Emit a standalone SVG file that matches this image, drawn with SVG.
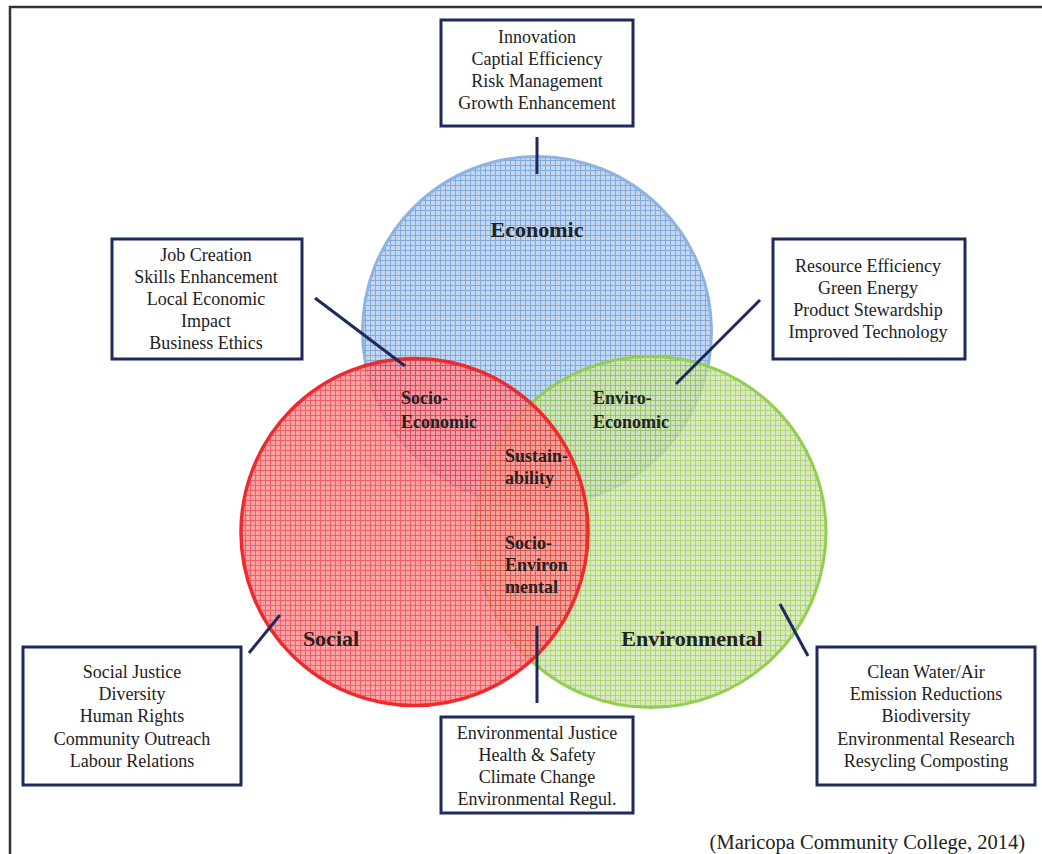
<svg xmlns="http://www.w3.org/2000/svg" width="1042" height="854" viewBox="0 0 1042 854">
<style>
.box{fill:#fff;stroke:#1F2A5C;stroke-width:3}
.bt{font-family:"Liberation Serif",serif;font-size:18px;fill:#222;text-anchor:middle}
.lbl{font-family:"Liberation Serif",serif;font-size:18px;font-weight:bold;fill:#222}
.big{font-family:"Liberation Serif",serif;font-size:22px;font-weight:bold;fill:#222;text-anchor:middle}
.con{stroke:#1F2A5C;stroke-width:3;fill:none}
</style>
<defs>
<pattern id="pE" width="5" height="5" patternUnits="userSpaceOnUse">
<rect width="5" height="5" fill="#C3D7F0"/>
<path d="M0 0.5H5M0.5 0V5" stroke="#82A9DC" stroke-width="1"/>
</pattern>
<pattern id="pS" width="5" height="5" patternUnits="userSpaceOnUse">
<rect width="5" height="5" fill="#FF8D90"/>
<path d="M0 0.5H5M0.5 0V5" stroke="#EC3840" stroke-width="1"/>
</pattern>
<pattern id="pV" width="5" height="5" patternUnits="userSpaceOnUse">
<rect width="5" height="5" fill="#D1E5B0"/>
<path d="M0 0.5H5M0.5 0V5" stroke="#9CCA58" stroke-width="1"/>
</pattern>
</defs>
<rect width="1042" height="854" fill="#fff"/>
<path d="M10 854V7H1042" fill="none" stroke="#333" stroke-width="2.5"/>
<g id="economic">
<circle cx="537" cy="331" r="174.5" fill="url(#pE)" stroke="#8DB3E2" stroke-width="3"/>
</g>
<g id="environmental">
<circle cx="650.5" cy="532" r="175.5" fill="url(#pV)" fill-opacity="0.8" stroke="#92CF50" stroke-width="3"/>
</g>
<g id="social">
<circle cx="414.5" cy="532" r="173.5" fill="url(#pS)" fill-opacity="0.8" stroke="#EE2A2E" stroke-width="3.5"/>
</g>
<g id="region-labels">
<text class="big" x="537" y="237">Economic</text>
<text class="big" x="331" y="646">Social</text>
<text class="big" x="692" y="646">Environmental</text>
<text class="lbl" x="401" y="404">Socio-</text>
<text class="lbl" x="401" y="428">Economic</text>
<text class="lbl" x="593" y="404">Enviro-</text>
<text class="lbl" x="593" y="428">Economic</text>
<text class="lbl" x="505" y="462">Sustain-</text>
<text class="lbl" x="505" y="484">ability</text>
<text class="lbl" x="505" y="549">Socio-</text>
<text class="lbl" x="505" y="571">Environ</text>
<text class="lbl" x="505" y="593">mental</text>
</g>
<g id="connectors">
<line class="con" x1="537" y1="137" x2="537" y2="174"/>
<line class="con" x1="315" y1="298" x2="405" y2="366"/>
<line class="con" x1="760" y1="300" x2="676" y2="384"/>
<line class="con" x1="249" y1="653" x2="280" y2="615"/>
<line class="con" x1="537" y1="626" x2="537" y2="703"/>
<line class="con" x1="780" y1="604" x2="808" y2="656"/>
</g>
<g id="box-economic">
<rect class="box" x="441" y="20" width="192" height="106"/>
<text class="bt" x="537" y="43">Innovation</text>
<text class="bt" x="537" y="65">Captial Efficiency</text>
<text class="bt" x="537" y="87">Risk Management</text>
<text class="bt" x="537" y="109">Growth Enhancement</text>
</g>
<g id="box-socio-economic">
<rect class="box" x="112" y="239" width="190" height="120"/>
<text class="bt" x="206" y="261">Job Creation</text>
<text class="bt" x="206" y="283">Skills Enhancement</text>
<text class="bt" x="206" y="305">Local Economic</text>
<text class="bt" x="206" y="327">Impact</text>
<text class="bt" x="206" y="349">Business Ethics</text>
</g>
<g id="box-enviro-economic">
<rect class="box" x="773" y="239" width="192" height="120"/>
<text class="bt" x="868" y="272">Resource Efficiency</text>
<text class="bt" x="868" y="294">Green Energy</text>
<text class="bt" x="868" y="316">Product Stewardship</text>
<text class="bt" x="868" y="338">Improved Technology</text>
</g>
<g id="box-social">
<rect class="box" x="23" y="647" width="218" height="138"/>
<text class="bt" x="132" y="678">Social Justice</text>
<text class="bt" x="132" y="700">Diversity</text>
<text class="bt" x="132" y="722">Human Rights</text>
<text class="bt" x="132" y="745">Community Outreach</text>
<text class="bt" x="132" y="767">Labour Relations</text>
</g>
<g id="box-socio-environmental">
<rect class="box" x="441" y="717" width="192" height="96"/>
<text class="bt" x="537" y="739">Environmental Justice</text>
<text class="bt" x="537" y="761">Health &amp; Safety</text>
<text class="bt" x="537" y="783">Climate Change</text>
<text class="bt" x="537" y="805">Environmental Regul.</text>
</g>
<g id="box-environmental">
<rect class="box" x="817" y="647" width="218" height="138"/>
<text class="bt" x="926" y="678">Clean Water/Air</text>
<text class="bt" x="926" y="700">Emission Reductions</text>
<text class="bt" x="926" y="722">Biodiversity</text>
<text class="bt" x="926" y="745">Environmental Research</text>
<text class="bt" x="926" y="767">Resycling Composting</text>
</g>
<text x="1025" y="849" font-family="Liberation Serif, serif" font-size="20.5" fill="#222" text-anchor="end">(Maricopa Community College, 2014)</text>
</svg>
